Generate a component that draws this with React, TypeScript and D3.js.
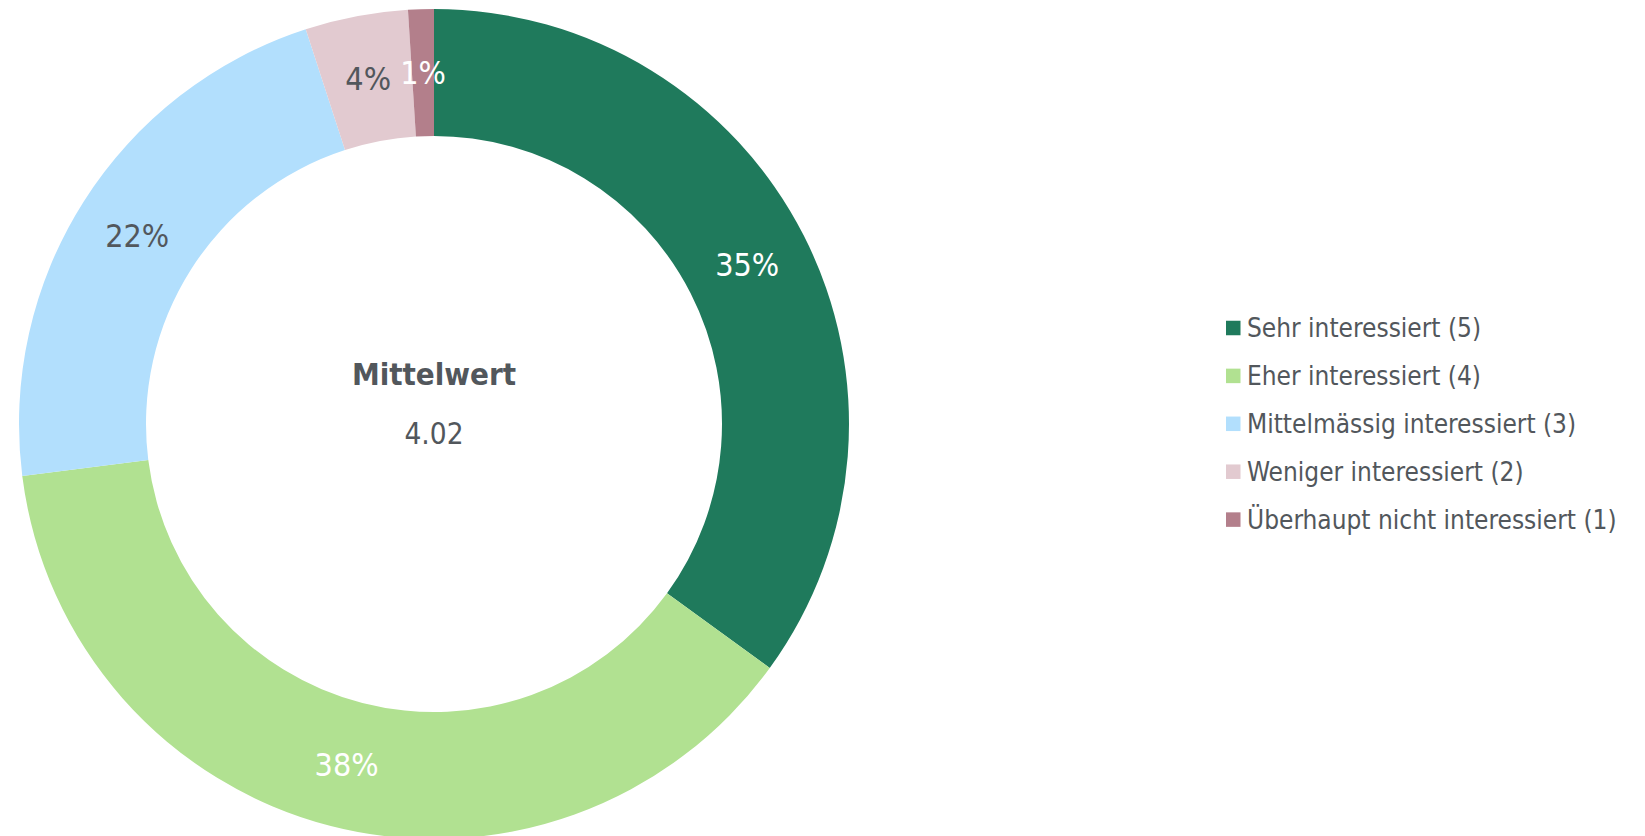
import React from 'react'
import * as d3 from 'd3'

// categories, shares (%) and colours
const categories = [
  'Sehr interessiert (5)',
  'Eher interessiert (4)',
  'Mittelmässig interessiert (3)',
  'Weniger interessiert (2)',
  'Überhaupt nicht interessiert (1)',
]
const shares = [35, 38, 22, 4, 1]
const colors = ['#1f7a5c', '#b1e191', '#b2dffd', '#e2cad0', '#b37f8b']
const labelColors = ['#ffffff', '#ffffff', '#52575c', '#52575c', '#ffffff']
const centerTitle = 'Mittelwert'
const centerValue = '4.02'

const font = '"DejaVu Sans Condensed", "DejaVu Sans", sans-serif'
const textColor = '#52575c'

export default function App() {
  const width = 1645
  const height = 836
  const cx = 434
  const cy = 424
  const outerR = 415
  const innerR = 288

  const pie = d3.pie<number>().sort(null).value(d => d)
  const arcs = pie(shares)
  const arc = d3.arc<d3.PieArcDatum<number>>().innerRadius(innerR).outerRadius(outerR)

  // legend
  const legendX = 1226
  const legendY = 328
  const rowGap = 47.9
  const box = 14.5

  return (
    <svg width={width} height={height} style={{position: 'absolute', left: 0, top: 0, fontFamily: font}}>
      <rect width={width} height={height} fill="#ffffff" />
      <g transform={`translate(${cx},${cy})`}>
        {arcs.map((a, i) => (
          <path key={i} d={arc(a) || ''} fill={colors[i]} />
        ))}
        {arcs.map((a, i) => {
          const [x, y] = arc.centroid(a)
          return (
            <text key={'l' + i} x={x} y={y} dy="0.36em" textAnchor="middle" fontSize={32} fill={labelColors[i]}>
              {shares[i]}%
            </text>
          )
        })}
        <text x={0} y={-39} textAnchor="middle" fontSize={31} fontWeight="bold" fill={textColor}>{centerTitle}</text>
        <text x={0} y={20} textAnchor="middle" fontSize={29.5} fill={textColor}>{centerValue}</text>
      </g>
      <g transform={`translate(${legendX},${legendY})`}>
        {categories.map((c, i) => (
          <g key={c} transform={`translate(0,${i * rowGap})`}>
            <rect x={0} y={-box / 2} width={box} height={box} fill={colors[i]} />
            <text x={21} y={0} dy="0.36em" fontSize={26} fill={textColor}>{c}</text>
          </g>
        ))}
      </g>
    </svg>
  )
}
